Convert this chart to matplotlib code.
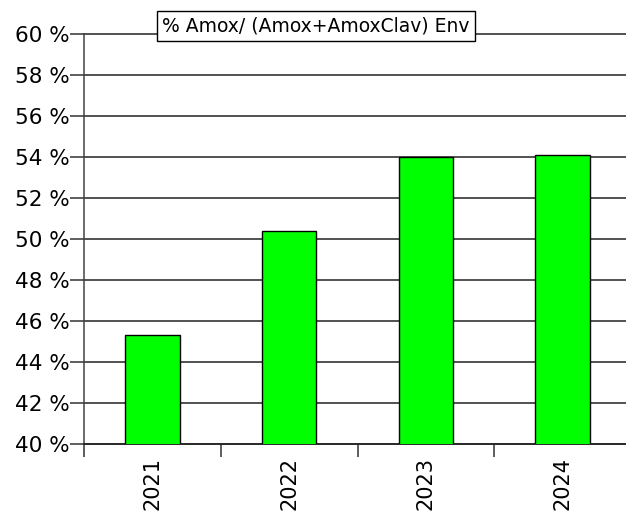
import numpy as np
import matplotlib.pyplot as plt
from matplotlib.ticker import FixedLocator

# data
years = ["2021", "2022", "2023", "2024"]
pct_amox = [45.3, 50.4, 54.0, 54.1]
y_ticks = np.arange(40, 61, 2)
y_labels = [f"{v} %" for v in y_ticks]

fig = plt.figure(figsize=(6.26, 5.17), dpi=100)
ax = fig.add_axes([84 / 626, 1 - 444 / 517, 547 / 626, 410 / 517])

x = np.arange(len(years))
ax.bar(x, pct_amox, width=0.4, color="#00ff00", edgecolor="black", linewidth=1, zorder=3)

ax.set_xlim(-0.5, len(years) - 0.5)
ax.set_ylim(40, 60)
ax.set_yticks(y_ticks)
ax.set_yticklabels(y_labels, fontsize=15.5)
ax.yaxis.grid(True, color="#222222", linewidth=1.1, zorder=0)
for gl in ax.yaxis.get_gridlines():
    gl.set_clip_on(False)

ax.set_xticks(x)
ax.set_xticklabels(years, rotation=90, fontsize=15)
ax.tick_params(axis="x", which="major", length=0, pad=9.5)
ax.xaxis.set_minor_locator(FixedLocator(np.arange(-0.5, len(years), 1)))
ax.tick_params(axis="x", which="minor", length=9.4, width=1.1, color="#333333")
ax.tick_params(axis="y", length=10, width=1.1, color="#333333", pad=0)

for s in ["top", "right"]:
    ax.spines[s].set_visible(False)
ax.spines["left"].set_color("#444444")
ax.spines["left"].set_linewidth(1.1)
ax.spines["bottom"].set_color("#222222")
ax.spines["bottom"].set_linewidth(1.1)

fig.text(316 / 626, 1 - 26 / 517, "% Amox/ (Amox+AmoxClav) Env", fontsize=13.5,
         ha="center", va="center", zorder=5,
         bbox=dict(boxstyle="square,pad=0.3", facecolor="white", edgecolor="black", linewidth=1))

fig.savefig("out.png", dpi=100)
